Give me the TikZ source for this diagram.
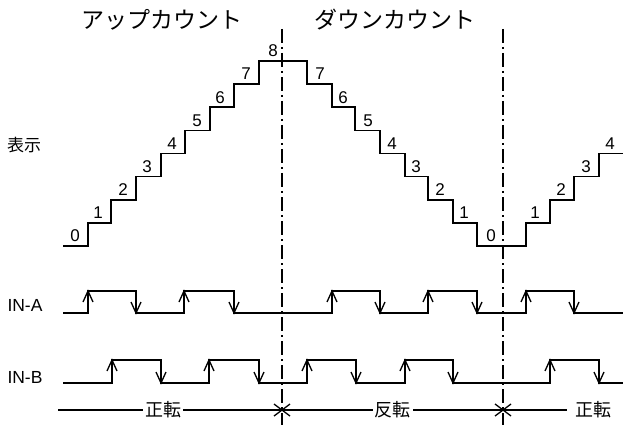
\documentclass[tikz,border=0pt]{standalone}
\usepackage{fontspec}
\setmainfont{Liberation Sans}
\newfontfamily\jp{Noto Sans CJK JP}
\usetikzlibrary{arrows.meta}
\begin{document}
\begin{tikzpicture}[x=1pt,y=-1pt,
  wave/.style={line width=1.6pt,line join=miter},
  dashdot/.style={line width=1.4pt,dash pattern=on 14pt off 4pt on 2pt off 4pt},
  barb/.style={line width=1.3pt},
  digit/.style={font=\fontsize{17}{17}\selectfont,inner sep=0pt},
  title/.style={font=\jp\fontsize{23}{23}\selectfont,inner sep=0pt},
  sig/.style={font=\fontsize{17.5}{17.5}\selectfont,inner sep=0pt},
  dir/.style={font=\jp\fontsize{18}{18}\selectfont,fill=white,inner xsep=2pt,inner ysep=0pt},
  dim/.style={line width=1.3pt}]
\useasboundingbox (0,0) rectangle (624,425);
\def\La{246}\def\Lb{222.9}\def\Lc{199.75}\def\Ld{176.6}\def\Le{153.5}
\def\Lf{130.4}\def\Lg{107.25}\def\Lh{84.1}\def\Li{61}
% titles
\node[title] (up) at (162,20) {アップカウント};
\node[title] (down) at (395,20) {ダウンカウント};
\node[font=\jp\fontsize{17}{17}\selectfont,inner sep=0pt] (disp) at (24,145) {表示};
\node[sig] (ina) at (25,305) {IN-A};
\node[sig] (inb) at (25,377) {IN-B};
% dash-dot lines
\coordinate (d1t) at (282,29); \coordinate (d1b) at (282,425);
\coordinate (d2t) at (503,29); \coordinate (d2b) at (503,425);
\draw[dashdot] (d1t) -- (d1b);
\draw[dashdot] (d2t) -- (d2b);
% staircase
\draw[wave] (63,\La) -- (88,\La) -- (88,\Lb) -- (111,\Lb) -- (111,\Lc) -- (136,\Lc) -- (136,\Ld)
  -- (161,\Ld) -- (161,\Le) -- (185,\Le) -- (185,\Lf) -- (210,\Lf) -- (210,\Lg) -- (234,\Lg)
  -- (234,\Lh) -- (259,\Lh) -- (259,\Li) -- (307,\Li) -- (307,\Lh) -- (332,\Lh) -- (332,\Lg)
  -- (355,\Lg) -- (355,\Lf) -- (380,\Lf) -- (380,\Le) -- (405,\Le) -- (405,\Ld) -- (428,\Ld)
  -- (428,\Lc) -- (453,\Lc) -- (453,\Lb) -- (477,\Lb) -- (477,\La) -- (526,\La) -- (526,\Lb)
  -- (550,\Lb) -- (550,\Lc) -- (574,\Lc) -- (574,\Ld) -- (599,\Ld) -- (599,\Le) -- (623,\Le);
% digits
\node[digit] (u0) at (75,{\La-10}) {0};
\node[digit] (u1) at (98,{\Lb-10}) {1};
\node[digit] (u2) at (123,{\Lc-10}) {2};
\node[digit] (u3) at (147,{\Ld-10}) {3};
\node[digit] (u4) at (172,{\Le-10}) {4};
\node[digit] (u5) at (197,{\Lf-10}) {5};
\node[digit] (u6) at (220,{\Lg-10}) {6};
\node[digit] (u7) at (246,{\Lh-10}) {7};
\node[digit] (u8) at (273,{\Li-10}) {8};
\node[digit] (d7) at (320,{\Lh-10}) {7};
\node[digit] (d6) at (343,{\Lg-10}) {6};
\node[digit] (d5) at (368,{\Lf-10}) {5};
\node[digit] (d4) at (392,{\Le-10}) {4};
\node[digit] (d3) at (416,{\Ld-10}) {3};
\node[digit] (d2) at (440,{\Lc-10}) {2};
\node[digit] (d1) at (464,{\Lb-10}) {1};
\node[digit] (d0) at (491,{\La-10}) {0};
\node[digit] (r1) at (535,{\Lb-10}) {1};
\node[digit] (r2) at (561,{\Lc-10}) {2};
\node[digit] (r3) at (586,{\Ld-10}) {3};
\node[digit] (r4) at (610,{\Le-10}) {4};
% IN-A
\def\AL{313}\def\AH{291}
\draw[wave] (63,\AL) -- (88,\AL) -- (88,\AH) -- (136,\AH) -- (136,\AL) -- (184,\AL) -- (184,\AH)
  -- (234,\AH) -- (234,\AL) -- (332,\AL) -- (332,\AH) -- (380,\AH) -- (380,\AL) -- (428,\AL)
  -- (428,\AH) -- (477,\AH) -- (477,\AL) -- (526,\AL) -- (526,\AH) -- (574,\AH) -- (574,\AL) -- (623,\AL);
\foreach \x in {88,184,332,428,526}{
  \draw[barb] (\x-5,\AH+11) -- (\x,\AH) -- (\x+5,\AH+11);}
\foreach \x in {136,234,380,477,574}{
  \draw[barb] (\x-5,\AL-11) -- (\x,\AL) -- (\x+5,\AL-11);}
% IN-B
\def\BL{383}\def\BH{360}
\draw[wave] (63,\BL) -- (112,\BL) -- (112,\BH) -- (161,\BH) -- (161,\BL) -- (209,\BL) -- (209,\BH)
  -- (259,\BH) -- (259,\BL) -- (307,\BL) -- (307,\BH) -- (356,\BH) -- (356,\BL) -- (405,\BL)
  -- (405,\BH) -- (453,\BH) -- (453,\BL) -- (550,\BL) -- (550,\BH) -- (599,\BH) -- (599,\BL) -- (623,\BL);
\foreach \x in {112,209,307,405,550}{
  \draw[barb] (\x-5,\BH+11) -- (\x,\BH) -- (\x+5,\BH+11);}
\foreach \x in {161,259,356,453,599}{
  \draw[barb] (\x-5,\BL-11) -- (\x,\BL) -- (\x+5,\BL-11);}
% bottom direction row
\coordinate (s0) at (58,410);
\coordinate (x1) at (282,410);
\coordinate (x2) at (503,410);
\coordinate (e3) at (567,410);
\draw[dim] (s0) -- node[dir,pos=0.47] (fwd1) {正転} (x1);
\draw[dim] (x1) -- node[dir] (rev) {反転} (x2);
\draw[dim] (x2) -- (e3);
\node[font=\jp\fontsize{18}{18}\selectfont,inner sep=0pt,anchor=west] (fwd2) at (575,410) {正転};
\foreach \p in {x1,x2}{
  \draw[barb] ([shift={(-8,-6)}]\p) -- (\p) -- ([shift={(-8,6)}]\p);
  \draw[barb] ([shift={(8,-6)}]\p) -- (\p) -- ([shift={(8,6)}]\p);}
\end{tikzpicture}
\end{document}
